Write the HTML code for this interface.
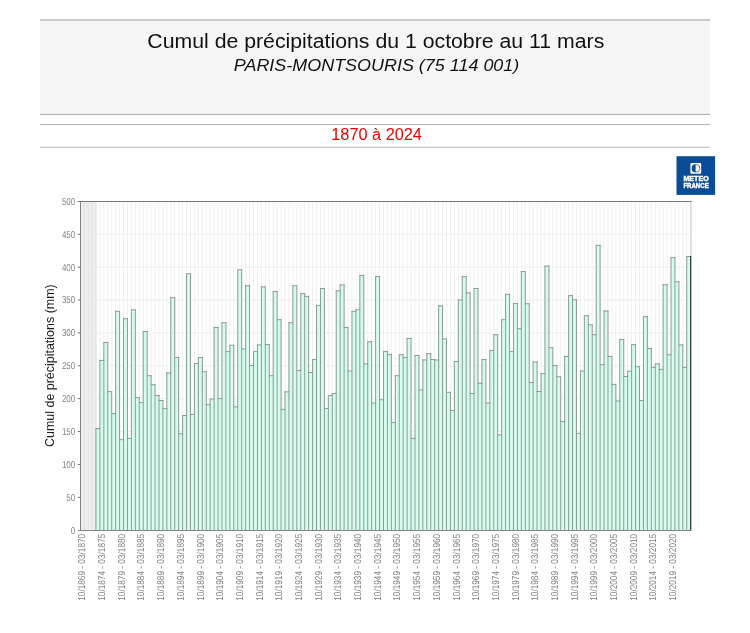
<!DOCTYPE html>
<html><head><meta charset="utf-8"><title>Cumul de précipitations</title>
<style>html,body{margin:0;padding:0;background:#fff;}body{width:750px;height:633px;overflow:hidden;font-family:"Liberation Sans",sans-serif;}svg{display:block;will-change:transform;}text{font-family:"Liberation Sans",sans-serif;}.t{text-rendering:geometricPrecision;}</style>
</head><body>
<svg width="750" height="633" viewBox="0 0 750 633">
<rect x="0" y="0" width="750" height="633" fill="#ffffff"/>
<rect x="40.2" y="20" width="669.8" height="93.6" fill="#f6f6f6"/>
<rect x="40.2" y="19.1" width="669.8" height="1.7" fill="#c2c2c2"/>
<rect x="40.2" y="113.9" width="669.8" height="1.1" fill="#b0b0b0"/>
<rect x="40.2" y="124.05" width="669.8" height="1" fill="#b4b4b4"/>
<rect x="40.2" y="146.8" width="669.8" height="1" fill="#b8b8b8"/>
<text x="147.3" y="47.8" font-size="20" textLength="457.0" lengthAdjust="spacingAndGlyphs" fill="#111">Cumul de précipitations du 1 octobre au 11 mars</text>
<text x="233.8" y="71.4" font-size="17" font-style="italic" textLength="285.5" lengthAdjust="spacingAndGlyphs" fill="#111">PARIS-MONTSOURIS (75 114 001)</text>
<text x="331.3" y="139.8" font-size="16" textLength="90.6" lengthAdjust="spacingAndGlyphs" fill="#ee0000">1870 à 2024</text>
<g>
<rect x="676.5" y="156.2" width="38.6" height="38.7" fill="#0b4c97"/>
<rect x="690.4" y="163" width="10.8" height="10.7" rx="1" fill="#fff"/>
<circle cx="695.9" cy="168.3" r="3.9" fill="#fff" stroke="#0b4c97" stroke-width="0.7"/>
<path d="M695.6 164.4 A3.9 3.9 0 0 0 695.6 172.2 Z" fill="#0b4c97"/>
<path d="M691.6 167.7 L692.5 168.3 L691.6 168.9 Z" fill="#fff"/>
<text x="683.4" y="181.4" font-size="7.2" font-weight="bold" fill="#fff" stroke="#fff" stroke-width="0.45" textLength="25.3" lengthAdjust="spacingAndGlyphs">METEO</text>
<text x="683.4" y="187.9" font-size="7.2" font-weight="bold" fill="#fff" stroke="#fff" stroke-width="0.45" textLength="25.3" lengthAdjust="spacingAndGlyphs">FRANCE</text>
</g>
<rect x="80.2" y="201.4" width="610.50" height="328.80" fill="#fff"/>
<rect x="80" y="201.4" width="16.0" height="328.80" fill="#efefef"/>
<path d="M84.14 201.4V530.2M88.08 201.4V530.2M92.02 201.4V530.2M95.95 201.4V530.2M99.89 201.4V530.2M103.83 201.4V530.2M107.77 201.4V530.2M111.71 201.4V530.2M115.65 201.4V530.2M119.59 201.4V530.2M123.53 201.4V530.2M127.46 201.4V530.2M131.40 201.4V530.2M135.34 201.4V530.2M139.28 201.4V530.2M143.22 201.4V530.2M147.16 201.4V530.2M151.10 201.4V530.2M155.04 201.4V530.2M158.97 201.4V530.2M162.91 201.4V530.2M166.85 201.4V530.2M170.79 201.4V530.2M174.73 201.4V530.2M178.67 201.4V530.2M182.61 201.4V530.2M186.55 201.4V530.2M190.48 201.4V530.2M194.42 201.4V530.2M198.36 201.4V530.2M202.30 201.4V530.2M206.24 201.4V530.2M210.18 201.4V530.2M214.12 201.4V530.2M218.05 201.4V530.2M221.99 201.4V530.2M225.93 201.4V530.2M229.87 201.4V530.2M233.81 201.4V530.2M237.75 201.4V530.2M241.69 201.4V530.2M245.63 201.4V530.2M249.56 201.4V530.2M253.50 201.4V530.2M257.44 201.4V530.2M261.38 201.4V530.2M265.32 201.4V530.2M269.26 201.4V530.2M273.20 201.4V530.2M277.14 201.4V530.2M281.07 201.4V530.2M285.01 201.4V530.2M288.95 201.4V530.2M292.89 201.4V530.2M296.83 201.4V530.2M300.77 201.4V530.2M304.71 201.4V530.2M308.65 201.4V530.2M312.58 201.4V530.2M316.52 201.4V530.2M320.46 201.4V530.2M324.40 201.4V530.2M328.34 201.4V530.2M332.28 201.4V530.2M336.22 201.4V530.2M340.15 201.4V530.2M344.09 201.4V530.2M348.03 201.4V530.2M351.97 201.4V530.2M355.91 201.4V530.2M359.85 201.4V530.2M363.79 201.4V530.2M367.73 201.4V530.2M371.66 201.4V530.2M375.60 201.4V530.2M379.54 201.4V530.2M383.48 201.4V530.2M387.42 201.4V530.2M391.36 201.4V530.2M395.30 201.4V530.2M399.24 201.4V530.2M403.17 201.4V530.2M407.11 201.4V530.2M411.05 201.4V530.2M414.99 201.4V530.2M418.93 201.4V530.2M422.87 201.4V530.2M426.81 201.4V530.2M430.75 201.4V530.2M434.68 201.4V530.2M438.62 201.4V530.2M442.56 201.4V530.2M446.50 201.4V530.2M450.44 201.4V530.2M454.38 201.4V530.2M458.32 201.4V530.2M462.25 201.4V530.2M466.19 201.4V530.2M470.13 201.4V530.2M474.07 201.4V530.2M478.01 201.4V530.2M481.95 201.4V530.2M485.89 201.4V530.2M489.83 201.4V530.2M493.76 201.4V530.2M497.70 201.4V530.2M501.64 201.4V530.2M505.58 201.4V530.2M509.52 201.4V530.2M513.46 201.4V530.2M517.40 201.4V530.2M521.34 201.4V530.2M525.27 201.4V530.2M529.21 201.4V530.2M533.15 201.4V530.2M537.09 201.4V530.2M541.03 201.4V530.2M544.97 201.4V530.2M548.91 201.4V530.2M552.85 201.4V530.2M556.78 201.4V530.2M560.72 201.4V530.2M564.66 201.4V530.2M568.60 201.4V530.2M572.54 201.4V530.2M576.48 201.4V530.2M580.42 201.4V530.2M584.35 201.4V530.2M588.29 201.4V530.2M592.23 201.4V530.2M596.17 201.4V530.2M600.11 201.4V530.2M604.05 201.4V530.2M607.99 201.4V530.2M611.93 201.4V530.2M615.86 201.4V530.2M619.80 201.4V530.2M623.74 201.4V530.2M627.68 201.4V530.2M631.62 201.4V530.2M635.56 201.4V530.2M639.50 201.4V530.2M643.44 201.4V530.2M647.37 201.4V530.2M651.31 201.4V530.2M655.25 201.4V530.2M659.19 201.4V530.2M663.13 201.4V530.2M667.07 201.4V530.2M671.01 201.4V530.2M674.95 201.4V530.2M678.88 201.4V530.2M682.82 201.4V530.2M686.76 201.4V530.2" stroke="#f0f0f0" stroke-width="1" fill="none"/>
<path d="M84.14 201.4V530.2M88.08 201.4V530.2M92.02 201.4V530.2M95.95 201.4V530.2" stroke="#dedede" stroke-width="1" fill="none"/>
<path d="M80.2 497.32H690.7M80.2 464.44H690.7M80.2 431.56H690.7M80.2 398.68H690.7M80.2 365.80H690.7M80.2 332.92H690.7M80.2 300.04H690.7M80.2 267.16H690.7M80.2 234.28H690.7" stroke="#eeeeee" stroke-width="1" fill="none"/>
<path d="M95.95 530.2V428.60H99.89V530.2zM99.89 530.2V360.41H103.83V530.2zM103.83 530.2V342.46H107.77V530.2zM107.77 530.2V391.64H111.71V530.2zM111.71 530.2V413.61H115.65V530.2zM115.65 530.2V311.35H119.59V530.2zM119.59 530.2V439.65H123.53V530.2zM123.53 530.2V318.78H127.46V530.2zM127.46 530.2V438.40H131.40V530.2zM131.40 530.2V309.90H135.34V530.2zM135.34 530.2V397.69H139.28V530.2zM139.28 530.2V402.56H143.22V530.2zM143.22 530.2V331.60H147.16V530.2zM147.16 530.2V375.73H151.10V530.2zM151.10 530.2V384.74H155.04V530.2zM155.04 530.2V395.46H158.97V530.2zM158.97 530.2V400.52H162.91V530.2zM162.91 530.2V408.41H166.85V530.2zM166.85 530.2V372.90H170.79V530.2zM170.79 530.2V297.67H174.73V530.2zM174.73 530.2V357.58H178.67V530.2zM178.67 530.2V433.66H182.61V530.2zM182.61 530.2V415.51H186.55V530.2zM186.55 530.2V273.74H190.48V530.2zM190.48 530.2V414.40H194.42V530.2zM194.42 530.2V363.56H198.36V530.2zM198.36 530.2V357.58H202.30V530.2zM202.30 530.2V371.78H206.24V530.2zM206.24 530.2V404.60H210.18V530.2zM210.18 530.2V399.07H214.12V530.2zM214.12 530.2V327.46H218.05V530.2zM218.05 530.2V398.61H221.99V530.2zM221.99 530.2V322.73H225.93V530.2zM225.93 530.2V351.60H229.87V530.2zM229.87 530.2V345.28H233.81V530.2zM233.81 530.2V406.83H237.75V530.2zM237.75 530.2V269.79H241.69V530.2zM241.69 530.2V348.90H245.63V530.2zM245.63 530.2V285.77H249.56V530.2zM249.56 530.2V365.47H253.50V530.2zM253.50 530.2V351.60H257.44V530.2zM257.44 530.2V344.95H261.38V530.2zM261.38 530.2V286.89H265.32V530.2zM265.32 530.2V344.63H269.26V530.2zM269.26 530.2V375.73H273.20V530.2zM273.20 530.2V291.62H277.14V530.2zM277.14 530.2V319.70H281.07V530.2zM281.07 530.2V409.33H285.01V530.2zM285.01 530.2V391.84H288.95V530.2zM288.95 530.2V322.73H292.89V530.2zM292.89 530.2V285.77H296.83V530.2zM296.83 530.2V370.53H300.77V530.2zM300.77 530.2V293.66H304.71V530.2zM304.71 530.2V296.36H308.65V530.2zM308.65 530.2V372.57H312.58V530.2zM312.58 530.2V359.49H316.52V530.2zM316.52 530.2V305.37H320.46V530.2zM320.46 530.2V288.47H324.40V530.2zM324.40 530.2V408.41H328.34V530.2zM328.34 530.2V395.46H332.28V530.2zM332.28 530.2V393.55H336.22V530.2zM336.22 530.2V290.83H340.15V530.2zM340.15 530.2V284.98H344.09V530.2zM344.09 530.2V327.46H348.03V530.2zM348.03 530.2V371.00H351.97V530.2zM351.97 530.2V311.35H355.91V530.2zM355.91 530.2V309.77H359.85V530.2zM359.85 530.2V275.38H363.79V530.2zM363.79 530.2V363.89H367.73V530.2zM367.73 530.2V341.80H371.66V530.2zM371.66 530.2V403.02H375.60V530.2zM375.60 530.2V276.63H379.54V530.2zM379.54 530.2V399.73H383.48V530.2zM383.48 530.2V351.60H387.42V530.2zM387.42 530.2V354.42H391.36V530.2zM391.36 530.2V422.62H395.30V530.2zM395.30 530.2V375.73H399.24V530.2zM399.24 530.2V354.75H403.17V530.2zM403.17 530.2V357.58H407.11V530.2zM407.11 530.2V338.51H411.05V530.2zM411.05 530.2V438.40H414.99V530.2zM414.99 530.2V355.54H418.93V530.2zM418.93 530.2V389.93H422.87V530.2zM422.87 530.2V359.95H426.81V530.2zM426.81 530.2V353.63H430.75V530.2zM430.75 530.2V359.49H434.68V530.2zM434.68 530.2V359.95H438.62V530.2zM438.62 530.2V305.83H442.56V530.2zM442.56 530.2V338.97H446.50V530.2zM446.50 530.2V392.30H450.44V530.2zM450.44 530.2V410.45H454.38V530.2zM454.38 530.2V361.53H458.32V530.2zM458.32 530.2V299.97H462.25V530.2zM462.25 530.2V276.63H466.19V530.2zM466.19 530.2V292.87H470.13V530.2zM470.13 530.2V393.55H474.07V530.2zM474.07 530.2V288.47H478.01V530.2zM478.01 530.2V383.29H481.95V530.2zM481.95 530.2V359.49H485.89V530.2zM485.89 530.2V403.02H489.83V530.2zM489.83 530.2V350.48H493.76V530.2zM493.76 530.2V334.70H497.70V530.2zM497.70 530.2V434.91H501.64V530.2zM501.64 530.2V319.70H505.58V530.2zM505.58 530.2V294.32H509.52V530.2zM509.52 530.2V351.60H513.46V530.2zM513.46 530.2V303.46H517.40V530.2zM517.40 530.2V328.71H521.34V530.2zM521.34 530.2V271.57H525.27V530.2zM525.27 530.2V303.79H529.21V530.2zM529.21 530.2V382.50H533.15V530.2zM533.15 530.2V361.99H537.09V530.2zM537.09 530.2V391.51H541.03V530.2zM541.03 530.2V373.69H544.97V530.2zM544.97 530.2V266.11H548.91V530.2zM548.91 530.2V347.65H552.85V530.2zM552.85 530.2V365.47H556.78V530.2zM556.78 530.2V376.85H560.72V530.2zM560.72 530.2V421.50H564.66V530.2zM564.66 530.2V356.46H568.60V530.2zM568.60 530.2V295.57H572.54V530.2zM572.54 530.2V299.84H576.48V530.2zM576.48 530.2V433.34H580.42V530.2zM580.42 530.2V371.00H584.35V530.2zM584.35 530.2V315.76H588.29V530.2zM588.29 530.2V324.77H592.23V530.2zM592.23 530.2V334.70H596.17V530.2zM596.17 530.2V245.39H600.11V530.2zM600.11 530.2V364.68H604.05V530.2zM604.05 530.2V311.02H607.99V530.2zM607.99 530.2V356.46H611.93V530.2zM611.93 530.2V384.41H615.86V530.2zM615.86 530.2V400.98H619.80V530.2zM619.80 530.2V339.43H623.74V530.2zM623.74 530.2V376.52H627.68V530.2zM627.68 530.2V371.32H631.62V530.2zM631.62 530.2V344.63H635.56V530.2zM635.56 530.2V366.72H639.50V530.2zM639.50 530.2V400.52H643.44V530.2zM643.44 530.2V316.55H647.37V530.2zM647.37 530.2V348.44H651.31V530.2zM651.31 530.2V367.38H655.25V530.2zM655.25 530.2V363.89H659.19V530.2zM659.19 530.2V369.42H663.13V530.2zM663.13 530.2V284.78H667.07V530.2zM667.07 530.2V354.75H671.01V530.2zM671.01 530.2V257.69H674.95V530.2zM674.95 530.2V281.82H678.88V530.2zM678.88 530.2V344.95H682.82V530.2zM682.82 530.2V367.38H686.76V530.2zM686.76 530.2V256.44H690.70V530.2z" fill="#d6fcee"/>
<path d="M95.95 428.60H99.89M99.89 360.41H103.83M103.83 342.46H107.77M107.77 391.64H111.71M111.71 413.61H115.65M115.65 311.35H119.59M119.59 439.65H123.53M123.53 318.78H127.46M127.46 438.40H131.40M131.40 309.90H135.34M135.34 397.69H139.28M139.28 402.56H143.22M143.22 331.60H147.16M147.16 375.73H151.10M151.10 384.74H155.04M155.04 395.46H158.97M158.97 400.52H162.91M162.91 408.41H166.85M166.85 372.90H170.79M170.79 297.67H174.73M174.73 357.58H178.67M178.67 433.66H182.61M182.61 415.51H186.55M186.55 273.74H190.48M190.48 414.40H194.42M194.42 363.56H198.36M198.36 357.58H202.30M202.30 371.78H206.24M206.24 404.60H210.18M210.18 399.07H214.12M214.12 327.46H218.05M218.05 398.61H221.99M221.99 322.73H225.93M225.93 351.60H229.87M229.87 345.28H233.81M233.81 406.83H237.75M237.75 269.79H241.69M241.69 348.90H245.63M245.63 285.77H249.56M249.56 365.47H253.50M253.50 351.60H257.44M257.44 344.95H261.38M261.38 286.89H265.32M265.32 344.63H269.26M269.26 375.73H273.20M273.20 291.62H277.14M277.14 319.70H281.07M281.07 409.33H285.01M285.01 391.84H288.95M288.95 322.73H292.89M292.89 285.77H296.83M296.83 370.53H300.77M300.77 293.66H304.71M304.71 296.36H308.65M308.65 372.57H312.58M312.58 359.49H316.52M316.52 305.37H320.46M320.46 288.47H324.40M324.40 408.41H328.34M328.34 395.46H332.28M332.28 393.55H336.22M336.22 290.83H340.15M340.15 284.98H344.09M344.09 327.46H348.03M348.03 371.00H351.97M351.97 311.35H355.91M355.91 309.77H359.85M359.85 275.38H363.79M363.79 363.89H367.73M367.73 341.80H371.66M371.66 403.02H375.60M375.60 276.63H379.54M379.54 399.73H383.48M383.48 351.60H387.42M387.42 354.42H391.36M391.36 422.62H395.30M395.30 375.73H399.24M399.24 354.75H403.17M403.17 357.58H407.11M407.11 338.51H411.05M411.05 438.40H414.99M414.99 355.54H418.93M418.93 389.93H422.87M422.87 359.95H426.81M426.81 353.63H430.75M430.75 359.49H434.68M434.68 359.95H438.62M438.62 305.83H442.56M442.56 338.97H446.50M446.50 392.30H450.44M450.44 410.45H454.38M454.38 361.53H458.32M458.32 299.97H462.25M462.25 276.63H466.19M466.19 292.87H470.13M470.13 393.55H474.07M474.07 288.47H478.01M478.01 383.29H481.95M481.95 359.49H485.89M485.89 403.02H489.83M489.83 350.48H493.76M493.76 334.70H497.70M497.70 434.91H501.64M501.64 319.70H505.58M505.58 294.32H509.52M509.52 351.60H513.46M513.46 303.46H517.40M517.40 328.71H521.34M521.34 271.57H525.27M525.27 303.79H529.21M529.21 382.50H533.15M533.15 361.99H537.09M537.09 391.51H541.03M541.03 373.69H544.97M544.97 266.11H548.91M548.91 347.65H552.85M552.85 365.47H556.78M556.78 376.85H560.72M560.72 421.50H564.66M564.66 356.46H568.60M568.60 295.57H572.54M572.54 299.84H576.48M576.48 433.34H580.42M580.42 371.00H584.35M584.35 315.76H588.29M588.29 324.77H592.23M592.23 334.70H596.17M596.17 245.39H600.11M600.11 364.68H604.05M604.05 311.02H607.99M607.99 356.46H611.93M611.93 384.41H615.86M615.86 400.98H619.80M619.80 339.43H623.74M623.74 376.52H627.68M627.68 371.32H631.62M631.62 344.63H635.56M635.56 366.72H639.50M639.50 400.52H643.44M643.44 316.55H647.37M647.37 348.44H651.31M651.31 367.38H655.25M655.25 363.89H659.19M659.19 369.42H663.13M663.13 284.78H667.07M667.07 354.75H671.01M671.01 257.69H674.95M674.95 281.82H678.88M678.88 344.95H682.82M682.82 367.38H686.76M686.76 256.44H690.70M95.95 428.60V530.2M99.89 360.41V530.2M103.83 342.46V530.2M107.77 342.46V530.2M111.71 391.64V530.2M115.65 311.35V530.2M119.59 311.35V530.2M123.53 318.78V530.2M127.46 318.78V530.2M131.40 309.90V530.2M135.34 309.90V530.2M139.28 397.69V530.2M143.22 331.60V530.2M147.16 331.60V530.2M151.10 375.73V530.2M155.04 384.74V530.2M158.97 395.46V530.2M162.91 400.52V530.2M166.85 372.90V530.2M170.79 297.67V530.2M174.73 297.67V530.2M178.67 357.58V530.2M182.61 415.51V530.2M186.55 273.74V530.2M190.48 273.74V530.2M194.42 363.56V530.2M198.36 357.58V530.2M202.30 357.58V530.2M206.24 371.78V530.2M210.18 399.07V530.2M214.12 327.46V530.2M218.05 327.46V530.2M221.99 322.73V530.2M225.93 322.73V530.2M229.87 345.28V530.2M233.81 345.28V530.2M237.75 269.79V530.2M241.69 269.79V530.2M245.63 285.77V530.2M249.56 285.77V530.2M253.50 351.60V530.2M257.44 344.95V530.2M261.38 286.89V530.2M265.32 286.89V530.2M269.26 344.63V530.2M273.20 291.62V530.2M277.14 291.62V530.2M281.07 319.70V530.2M285.01 391.84V530.2M288.95 322.73V530.2M292.89 285.77V530.2M296.83 285.77V530.2M300.77 293.66V530.2M304.71 293.66V530.2M308.65 296.36V530.2M312.58 359.49V530.2M316.52 305.37V530.2M320.46 288.47V530.2M324.40 288.47V530.2M328.34 395.46V530.2M332.28 393.55V530.2M336.22 290.83V530.2M340.15 284.98V530.2M344.09 284.98V530.2M348.03 327.46V530.2M351.97 311.35V530.2M355.91 309.77V530.2M359.85 275.38V530.2M363.79 275.38V530.2M367.73 341.80V530.2M371.66 341.80V530.2M375.60 276.63V530.2M379.54 276.63V530.2M383.48 351.60V530.2M387.42 351.60V530.2M391.36 354.42V530.2M395.30 375.73V530.2M399.24 354.75V530.2M403.17 354.75V530.2M407.11 338.51V530.2M411.05 338.51V530.2M414.99 355.54V530.2M418.93 355.54V530.2M422.87 359.95V530.2M426.81 353.63V530.2M430.75 353.63V530.2M434.68 359.49V530.2M438.62 305.83V530.2M442.56 305.83V530.2M446.50 338.97V530.2M450.44 392.30V530.2M454.38 361.53V530.2M458.32 299.97V530.2M462.25 276.63V530.2M466.19 276.63V530.2M470.13 292.87V530.2M474.07 288.47V530.2M478.01 288.47V530.2M481.95 359.49V530.2M485.89 359.49V530.2M489.83 350.48V530.2M493.76 334.70V530.2M497.70 334.70V530.2M501.64 319.70V530.2M505.58 294.32V530.2M509.52 294.32V530.2M513.46 303.46V530.2M517.40 303.46V530.2M521.34 271.57V530.2M525.27 271.57V530.2M529.21 303.79V530.2M533.15 361.99V530.2M537.09 361.99V530.2M541.03 373.69V530.2M544.97 266.11V530.2M548.91 266.11V530.2M552.85 347.65V530.2M556.78 365.47V530.2M560.72 376.85V530.2M564.66 356.46V530.2M568.60 295.57V530.2M572.54 295.57V530.2M576.48 299.84V530.2M580.42 371.00V530.2M584.35 315.76V530.2M588.29 315.76V530.2M592.23 324.77V530.2M596.17 245.39V530.2M600.11 245.39V530.2M604.05 311.02V530.2M607.99 311.02V530.2M611.93 356.46V530.2M615.86 384.41V530.2M619.80 339.43V530.2M623.74 339.43V530.2M627.68 371.32V530.2M631.62 344.63V530.2M635.56 344.63V530.2M639.50 366.72V530.2M643.44 316.55V530.2M647.37 316.55V530.2M651.31 348.44V530.2M655.25 363.89V530.2M659.19 363.89V530.2M663.13 284.78V530.2M667.07 284.78V530.2M671.01 257.69V530.2M674.95 257.69V530.2M678.88 281.82V530.2M682.82 344.95V530.2M686.76 256.44V530.2M690.70 256.44V530.2" fill="none" stroke="#8c9c95" stroke-width="1" stroke-linecap="square"/>
<rect x="690.15" y="255.94" width="1.05" height="275.06" fill="#1a2a25"/>
<path d="M690.9 201.4V255.94111999999996" stroke="#d6d6d6" stroke-width="1.5" fill="none"/>
<path d="M77.7 201.5H691.5" stroke="#787878" stroke-width="1" fill="none"/>
<path d="M80.5 201V531" stroke="#828282" stroke-width="1" fill="none"/>
<path d="M77.7 530.5H691.2" stroke="#858585" stroke-width="1" fill="none"/>
<path d="M77.7 497.32H80M77.7 464.44H80M77.7 431.56H80M77.7 398.68H80M77.7 365.80H80M77.7 332.92H80M77.7 300.04H80M77.7 267.16H80M77.7 234.28H80" stroke="#777" stroke-width="1" fill="none"/>
<text class="t" x="70.78" y="534" font-size="10" fill="#828282" textLength="4.42" lengthAdjust="spacingAndGlyphs">0</text>
<text class="t" x="66.36" y="501" font-size="10" fill="#828282" textLength="8.84" lengthAdjust="spacingAndGlyphs">50</text>
<text class="t" x="61.94" y="468" font-size="10" fill="#828282" textLength="13.26" lengthAdjust="spacingAndGlyphs">100</text>
<text class="t" x="61.94" y="435" font-size="10" fill="#828282" textLength="13.26" lengthAdjust="spacingAndGlyphs">150</text>
<text class="t" x="61.94" y="402" font-size="10" fill="#828282" textLength="13.26" lengthAdjust="spacingAndGlyphs">200</text>
<text class="t" x="61.94" y="369" font-size="10" fill="#828282" textLength="13.26" lengthAdjust="spacingAndGlyphs">250</text>
<text class="t" x="61.94" y="336" font-size="10" fill="#828282" textLength="13.26" lengthAdjust="spacingAndGlyphs">300</text>
<text class="t" x="61.94" y="303" font-size="10" fill="#828282" textLength="13.26" lengthAdjust="spacingAndGlyphs">350</text>
<text class="t" x="61.94" y="271" font-size="10" fill="#828282" textLength="13.26" lengthAdjust="spacingAndGlyphs">400</text>
<text class="t" x="61.94" y="238" font-size="10" fill="#828282" textLength="13.26" lengthAdjust="spacingAndGlyphs">450</text>
<text class="t" x="61.94" y="205" font-size="10" fill="#828282" textLength="13.26" lengthAdjust="spacingAndGlyphs">500</text>
<text transform="translate(54.3 447) rotate(-90)" font-size="12" textLength="162.7" lengthAdjust="spacingAndGlyphs" fill="#1a1a1a">Cumul de précipitations (mm)</text>
<text class="t" transform="translate(85.37 600.8) rotate(-90)" font-size="10" fill="#828282" textLength="67.0" lengthAdjust="spacingAndGlyphs">10/1869 - 03/1870</text>
<text class="t" transform="translate(105.06 600.8) rotate(-90)" font-size="10" fill="#828282" textLength="67.0" lengthAdjust="spacingAndGlyphs">10/1874 - 03/1875</text>
<text class="t" transform="translate(124.76 600.8) rotate(-90)" font-size="10" fill="#828282" textLength="67.0" lengthAdjust="spacingAndGlyphs">10/1879 - 03/1880</text>
<text class="t" transform="translate(144.45 600.8) rotate(-90)" font-size="10" fill="#828282" textLength="67.0" lengthAdjust="spacingAndGlyphs">10/1884 - 03/1885</text>
<text class="t" transform="translate(164.14 600.8) rotate(-90)" font-size="10" fill="#828282" textLength="67.0" lengthAdjust="spacingAndGlyphs">10/1889 - 03/1890</text>
<text class="t" transform="translate(183.84 600.8) rotate(-90)" font-size="10" fill="#828282" textLength="67.0" lengthAdjust="spacingAndGlyphs">10/1894 - 03/1895</text>
<text class="t" transform="translate(203.53 600.8) rotate(-90)" font-size="10" fill="#828282" textLength="67.0" lengthAdjust="spacingAndGlyphs">10/1899 - 03/1900</text>
<text class="t" transform="translate(223.22 600.8) rotate(-90)" font-size="10" fill="#828282" textLength="67.0" lengthAdjust="spacingAndGlyphs">10/1904 - 03/1905</text>
<text class="t" transform="translate(242.92 600.8) rotate(-90)" font-size="10" fill="#828282" textLength="67.0" lengthAdjust="spacingAndGlyphs">10/1909 - 03/1910</text>
<text class="t" transform="translate(262.61 600.8) rotate(-90)" font-size="10" fill="#828282" textLength="67.0" lengthAdjust="spacingAndGlyphs">10/1914 - 03/1915</text>
<text class="t" transform="translate(282.30 600.8) rotate(-90)" font-size="10" fill="#828282" textLength="67.0" lengthAdjust="spacingAndGlyphs">10/1919 - 03/1920</text>
<text class="t" transform="translate(302.00 600.8) rotate(-90)" font-size="10" fill="#828282" textLength="67.0" lengthAdjust="spacingAndGlyphs">10/1924 - 03/1925</text>
<text class="t" transform="translate(321.69 600.8) rotate(-90)" font-size="10" fill="#828282" textLength="67.0" lengthAdjust="spacingAndGlyphs">10/1929 - 03/1930</text>
<text class="t" transform="translate(341.39 600.8) rotate(-90)" font-size="10" fill="#828282" textLength="67.0" lengthAdjust="spacingAndGlyphs">10/1934 - 03/1935</text>
<text class="t" transform="translate(361.08 600.8) rotate(-90)" font-size="10" fill="#828282" textLength="67.0" lengthAdjust="spacingAndGlyphs">10/1939 - 03/1940</text>
<text class="t" transform="translate(380.77 600.8) rotate(-90)" font-size="10" fill="#828282" textLength="67.0" lengthAdjust="spacingAndGlyphs">10/1944 - 03/1945</text>
<text class="t" transform="translate(400.47 600.8) rotate(-90)" font-size="10" fill="#828282" textLength="67.0" lengthAdjust="spacingAndGlyphs">10/1949 - 03/1950</text>
<text class="t" transform="translate(420.16 600.8) rotate(-90)" font-size="10" fill="#828282" textLength="67.0" lengthAdjust="spacingAndGlyphs">10/1954 - 03/1955</text>
<text class="t" transform="translate(439.85 600.8) rotate(-90)" font-size="10" fill="#828282" textLength="67.0" lengthAdjust="spacingAndGlyphs">10/1959 - 03/1960</text>
<text class="t" transform="translate(459.55 600.8) rotate(-90)" font-size="10" fill="#828282" textLength="67.0" lengthAdjust="spacingAndGlyphs">10/1964 - 03/1965</text>
<text class="t" transform="translate(479.24 600.8) rotate(-90)" font-size="10" fill="#828282" textLength="67.0" lengthAdjust="spacingAndGlyphs">10/1969 - 03/1970</text>
<text class="t" transform="translate(498.93 600.8) rotate(-90)" font-size="10" fill="#828282" textLength="67.0" lengthAdjust="spacingAndGlyphs">10/1974 - 03/1975</text>
<text class="t" transform="translate(518.63 600.8) rotate(-90)" font-size="10" fill="#828282" textLength="67.0" lengthAdjust="spacingAndGlyphs">10/1979 - 03/1980</text>
<text class="t" transform="translate(538.32 600.8) rotate(-90)" font-size="10" fill="#828282" textLength="67.0" lengthAdjust="spacingAndGlyphs">10/1984 - 03/1985</text>
<text class="t" transform="translate(558.01 600.8) rotate(-90)" font-size="10" fill="#828282" textLength="67.0" lengthAdjust="spacingAndGlyphs">10/1989 - 03/1990</text>
<text class="t" transform="translate(577.71 600.8) rotate(-90)" font-size="10" fill="#828282" textLength="67.0" lengthAdjust="spacingAndGlyphs">10/1994 - 03/1995</text>
<text class="t" transform="translate(597.40 600.8) rotate(-90)" font-size="10" fill="#828282" textLength="67.0" lengthAdjust="spacingAndGlyphs">10/1999 - 03/2000</text>
<text class="t" transform="translate(617.10 600.8) rotate(-90)" font-size="10" fill="#828282" textLength="67.0" lengthAdjust="spacingAndGlyphs">10/2004 - 03/2005</text>
<text class="t" transform="translate(636.79 600.8) rotate(-90)" font-size="10" fill="#828282" textLength="67.0" lengthAdjust="spacingAndGlyphs">10/2009 - 03/2010</text>
<text class="t" transform="translate(656.48 600.8) rotate(-90)" font-size="10" fill="#828282" textLength="67.0" lengthAdjust="spacingAndGlyphs">10/2014 - 03/2015</text>
<text class="t" transform="translate(676.18 600.8) rotate(-90)" font-size="10" fill="#828282" textLength="67.0" lengthAdjust="spacingAndGlyphs">10/2019 - 03/2020</text>
</svg>
</body></html>
